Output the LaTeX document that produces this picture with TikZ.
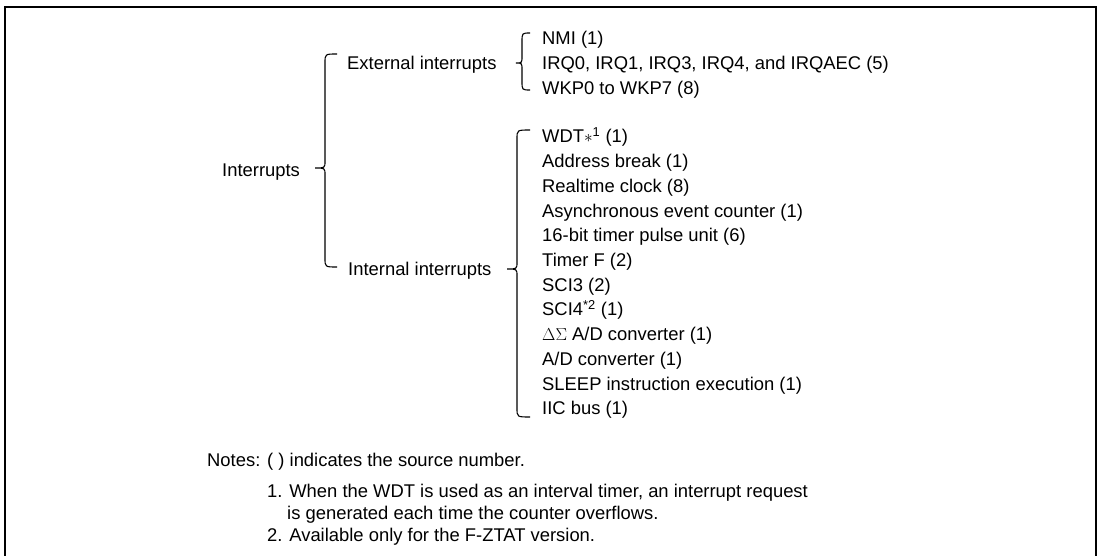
\documentclass[tikz,border=0pt]{standalone}
\usepackage{fontspec}
\setmainfont{Liberation Sans}
\newcommand\mybrace[6]{%
  \draw[brc] (#1,#4) .. controls (#2,#4) .. (#2,#4+9) -- (#2,#5-7)
    .. controls (#2,#5) .. (#3,#5) .. controls (#2,#5) .. (#2,#5+7)
    -- (#2,#6-9) .. controls (#2,#6) .. (#1,#6);}
\begin{document}
\begin{tikzpicture}[x=1pt,y=-1pt,
  lbl/.style={anchor=base west, inner sep=0pt, font=\fontsize{18.4}{22}\selectfont},
  brc/.style={line width=1.1pt},
  frm/.style={line width=2.2pt}]
\useasboundingbox (0,0) rectangle (1099,556);
\draw[frm] (5,556) -- (5,7) -- (1096,7) -- (1096,556);
% level labels
\node[lbl] (int) at (222,177) {Interrupts};
\node[lbl] (ext) at (347,70) {External interrupts};
\node[lbl] (inn) at (348,275) {Internal interrupts};
% braces
\mybrace{337}{325}{315}{54}{168}{267}
\mybrace{530}{522}{516}{33}{63}{90}
\mybrace{530}{517}{507}{130}{269}{417}
% external items
\node[lbl] (e1) at (542,45) {NMI (1)};
\node[lbl] (e2) at (542,70) {IRQ0, IRQ1, IRQ3, IRQ4, and IRQAEC (5)};
\node[lbl] (e3) at (542,95) {WKP0 to WKP7 (8)};
% internal items
\node[lbl] (i1) at (542,143.0) {WDT$\ast$\textsuperscript{1} (1)};
\node[lbl] (i2) at (542,167.7) {Address break (1)};
\node[lbl] (i3) at (542,192.4) {Realtime clock (8)};
\node[lbl] (i4) at (542,217.1) {Asynchronous event counter (1)};
\node[lbl] (i5) at (542,241.8) {16-bit timer pulse unit (6)};
\node[lbl] (i6) at (542,266.5) {Timer F (2)};
\node[lbl] (i7) at (542,291.2) {SCI3 (2)};
\node[lbl] (i8) at (542,315.9) {SCI4\textsuperscript{*2} (1)};
\node[lbl] (i9) at (542,340.6) {$\Delta\Sigma$ A/D converter (1)};
\node[lbl] (i10) at (542,365.3) {A/D converter (1)};
\node[lbl] (i11) at (542,390.0) {SLEEP instruction execution (1)};
\node[lbl] (i12) at (542,414.7) {IIC bus (1)};
% notes
\node[lbl] (n0) at (207,466) {Notes: ( ) indicates the source number.};
\node[lbl] (n1) at (267,497) {1. When the WDT is used as an interval timer, an interrupt request};
\node[lbl] (n1b) at (287,519) {is generated each time the counter overflows.};
\node[lbl] (n2) at (267,541) {2. Available only for the F-ZTAT version.};
\end{tikzpicture}
\end{document}
